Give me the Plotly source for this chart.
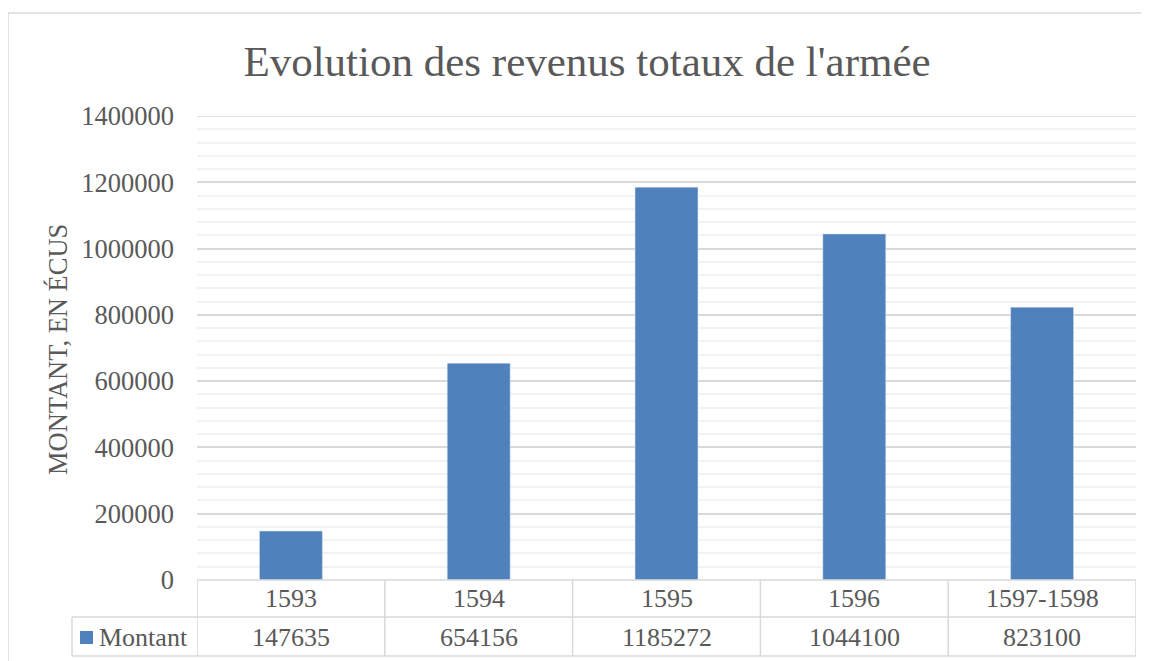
import plotly.graph_objects as go

categories = ["1593", "1594", "1595", "1596", "1597-1598"]
montant = [147635, 654156, 1185272, 1044100, 823100]
series_name = "Montant"
title_text = "Evolution des revenus totaux de l'armée"
y_title = "MONTANT, EN ÉCUS"
y_ticks = [0, 200000, 400000, 600000, 800000, 1000000, 1200000, 1400000]

OFF = 8  # page body margin
W, H = 1149 - OFF, 661 - OFF
L, T = 197 - OFF, 116 - OFF
PLOT_R, PLOT_B = 1136 - OFF, 580 - OFF
R, B = W - PLOT_R, H - PLOT_B
pw, ph = PLOT_R - L, PLOT_B - T

def px_x(xp):
    return (xp - OFF - L) / pw

def px_y(yp):
    return (PLOT_B - (yp - OFF)) / ph

FONT = "Liberation Serif, Times New Roman, serif"
TXT = "#595959"
GRID = "#d9d9d9"
MINOR = "#f2f2f2"
BLUE = "#4f81bd"

fig = go.Figure()
fig.add_trace(go.Bar(x=categories, y=montant, name=series_name, width=0.335,
                     marker=dict(color=BLUE, line=dict(color="#dbe5f1", width=0.5)),
                     showlegend=False))

shapes = []
# outer chart border
shapes.append(dict(type="rect", xref="paper", yref="paper", x0=px_x(8), x1=px_x(1180),
                   y0=px_y(700), y1=px_y(13), line=dict(color=GRID, width=1.5), layer="below"))
lw = dict(color=GRID, width=1.5)
# top major gridline (at range edge)
shapes.append(dict(type="line", xref="paper", yref="y", x0=0, x1=1,
                   y0=y_ticks[-1], y1=y_ticks[-1], line=lw, layer="below"))
row1 = px_y(617)
row2 = px_y(656)
left = px_x(72)
# table horizontal lines
shapes.append(dict(type="line", xref="x", yref="paper", x0=-0.5, x1=len(categories) - 0.5,
                   y0=0, y1=0, line=lw))
shapes.append(dict(type="line", xref="paper", yref="paper", x0=left, x1=1,
                   y0=row1, y1=row1, line=lw))
shapes.append(dict(type="line", xref="paper", yref="paper", x0=left, x1=1,
                   y0=row2, y1=row2, line=lw))
# vertical lines
for i in range(len(categories) + 1):
    shapes.append(dict(type="line", xref="x", yref="paper", x0=i - 0.5, x1=i - 0.5,
                       y0=0, y1=row2, line=lw))
shapes.append(dict(type="line", xref="paper", yref="paper", x0=left, x1=left,
                   y0=row1, y1=row2, line=lw))
# legend key
shapes.append(dict(type="rect", xref="paper", yref="paper", x0=px_x(80), x1=px_x(93),
                   y0=px_y(644), y1=px_y(631), fillcolor=BLUE, line=dict(width=0)))

tfont = dict(family=FONT, size=26, color=TXT)
annotations = []
for i, (c, v) in enumerate(zip(categories, montant)):
    annotations.append(dict(x=i, xref="x", y=px_y(598.5), yref="paper", text=c,
                            showarrow=False, font=tfont, xanchor="center", yanchor="middle"))
    annotations.append(dict(x=i, xref="x", y=px_y(637), yref="paper", text=str(v),
                            showarrow=False, font=tfont, xanchor="center", yanchor="middle"))
annotations.append(dict(x=px_x(97), xref="paper", y=px_y(637), yref="paper", text=series_name,
                        showarrow=False, font=tfont, xanchor="left", yanchor="middle"))
annotations.append(dict(x=px_x(58), xref="paper", y=px_y(350), yref="paper", text=y_title,
                        showarrow=False, textangle=-90, font=dict(family=FONT, size=26.5, color=TXT),
                        xanchor="center", yanchor="middle"))

fig.update_layout(
    width=W, height=H,
    margin=dict(l=L, r=R, t=T, b=B),
    paper_bgcolor="white", plot_bgcolor="white",
    title=dict(text=title_text, x=(587 - OFF) / W, xanchor="center",
               y=1 - (61 - OFF) / H, yanchor="middle",
               font=dict(family=FONT, size=43, color=TXT)),
    xaxis=dict(type="category", range=[-0.5, len(categories) - 0.5], showticklabels=False,
               showgrid=False, zeroline=False, showline=False),
    yaxis=dict(range=[0, 1400000], tickvals=y_ticks, ticktext=[str(t) for t in y_ticks],
               showgrid=True, gridcolor=GRID, gridwidth=1.5, zeroline=False, showline=False,
               minor=dict(dtick=40000, showgrid=True, gridcolor=MINOR, gridwidth=1.5),
               ticks="", ticklabelstandoff=22,
               tickfont=dict(family=FONT, size=26.5, color=TXT)),
    shapes=shapes,
    annotations=annotations,
    showlegend=False,
)

fig.write_html("out.html")
